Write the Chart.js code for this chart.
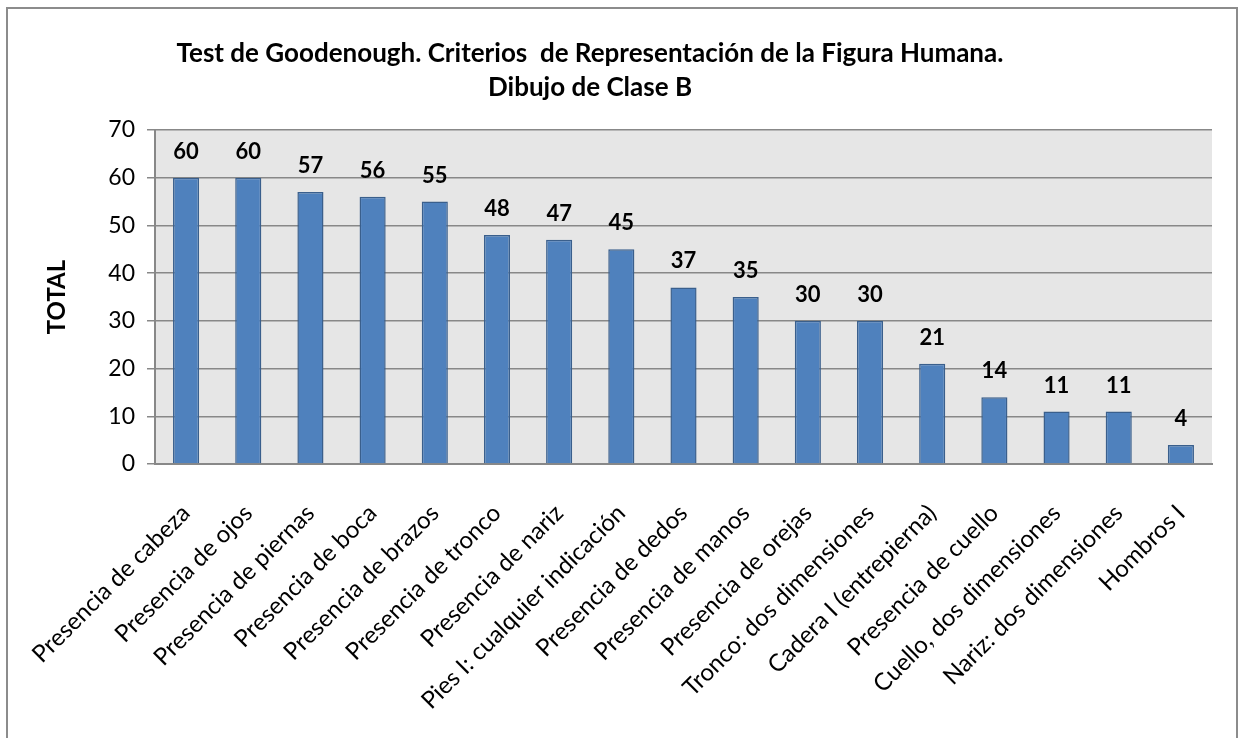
<!DOCTYPE html>
<html>
<head>
<meta charset="utf-8">
<script src="https://cdn.jsdelivr.net/npm/chart.js@4"></script>
<style>
  html, body { margin: 0; padding: 0; background: #fff; overflow: hidden; }
  #wrap { position: absolute; left: 0; top: 0; width: 1243px; height: 738px; }
  #frame { position: absolute; left: 6px; top: 7px; width: 1232px; height: 760px; border: 2px solid #8c8c8c; pointer-events: none; box-sizing: border-box; }
</style>
</head>
<body>
<div id="wrap"><canvas id="c" width="1243" height="738"></canvas></div>
<div id="frame"></div>
<script>
const categories = [
  "Presencia de cabeza", "Presencia de ojos", "Presencia de piernas", "Presencia de boca",
  "Presencia de brazos", "Presencia de tronco", "Presencia de nariz", "Pies I: cualquier indicación",
  "Presencia de dedos", "Presencia de manos", "Presencia de orejas", "Tronco: dos dimensiones",
  "Cadera I (entrepierna)", "Presencia de cuello", "Cuello, dos dimensiones", "Nariz: dos dimensiones",
  "Hombros I"
];
const totals = [60, 60, 57, 56, 55, 48, 47, 45, 37, 35, 30, 30, 21, 14, 11, 11, 4];
const titleLines = ["Test de Goodenough. Criterios  de Representación de la Figura Humana.", "Dibujo de Clase B"];
const yAxisTitle = "TOTAL";
const yMin = 0, yMax = 70, yStep = 10;

const FONT = "Lato, 'Open Sans', sans-serif";

const plotBg = {
  id: 'plotBg',
  beforeDraw(chart) {
    const {ctx, chartArea: a} = chart;
    ctx.save();
    ctx.fillStyle = '#e6e6e6';
    ctx.fillRect(a.left, a.top, a.right - a.left, a.bottom - a.top);
    ctx.restore();
  }
};

const valueLabels = {
  id: 'valueLabels',
  afterDatasetsDraw(chart) {
    const {ctx} = chart;
    const meta = chart.getDatasetMeta(0);
    ctx.save();
    ctx.font = "bold 22px " + FONT;
    ctx.fillStyle = '#000';
    ctx.textAlign = 'center';
    ctx.textBaseline = 'alphabetic';
    meta.data.forEach((bar, i) => {
      ctx.fillText(String(chart.data.datasets[0].data[i]), bar.x, bar.y - 19);
    });
    ctx.restore();
  }
};

const chartTitle = {
  id: 'chartTitle',
  afterDraw(chart) {
    const {ctx} = chart;
    ctx.save();
    ctx.font = "bold 26px " + FONT;
    ctx.fillStyle = '#000';
    ctx.textAlign = 'center';
    ctx.textBaseline = 'alphabetic';
    ctx.fillText(titleLines[0], 590, 62);
    ctx.fillText(titleLines[1], 590, 96);
    ctx.restore();
  }
};

new Chart(document.getElementById('c'), {
  type: 'bar',
  data: {
    labels: categories,
    datasets: [{
      data: totals,
      backgroundColor: '#4f81bd',
      borderColor: '#3a5f8c',
      borderWidth: 1.5,
      barPercentage: 0.42,
      categoryPercentage: 1.0
    }]
  },
  options: {
    responsive: false,
    animation: false,
    devicePixelRatio: 1,
    layout: { padding: { left: 0, right: 31, top: 130, bottom: 0 } },
    plugins: { legend: { display: false }, tooltip: { enabled: false }, title: { display: false } },
    scales: {
      x: {
        grid: { display: false, drawTicks: false },
        border: { display: true, color: '#888888', width: 2 },
        ticks: {
          color: '#000', autoSkip: false, maxRotation: 45, minRotation: 45,
          font: { family: FONT, size: 24 }, padding: 35
        },
        afterFit(scale) { scale.height = 274; scale.paddingLeft = 0; scale.paddingRight = 0; }
      },
      y: {
        min: yMin, max: yMax,
        ticks: { stepSize: yStep, color: '#000', font: { family: FONT, size: 23 }, padding: 12 },
        grid: { color: '#888888', lineWidth: 1.5, tickLength: 8 },
        border: { display: true, color: '#888888', width: 2 },
        title: {
          display: true, text: yAxisTitle, color: '#000',
          font: { family: FONT, size: 24, weight: 'bold' },
          padding: { top: 43, bottom: 0 }
        },
        afterFit(scale) { scale.width = 155; }
      }
    }
  },
  plugins: [plotBg, valueLabels, chartTitle]
});
</script>
</body>
</html>
